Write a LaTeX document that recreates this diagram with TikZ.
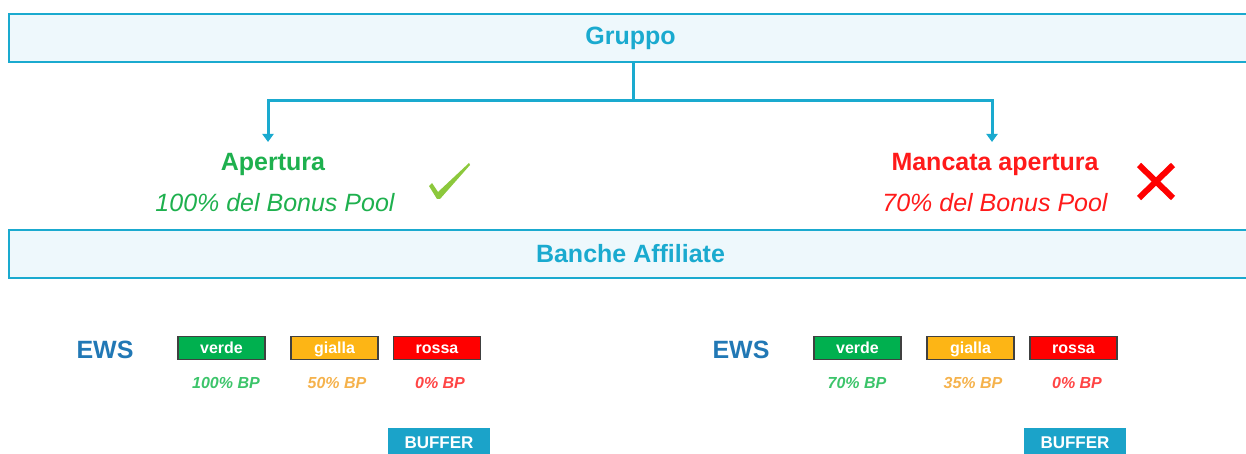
\documentclass[tikz,border=0pt]{standalone}
\usepackage{fontspec}
\setmainfont{Liberation Sans}
\usetikzlibrary{arrows.meta}
\definecolor{ciano}{HTML}{1AAACF}
\definecolor{azzurrino}{HTML}{EEF8FC}
\definecolor{verdetesto}{HTML}{1EB04E}
\definecolor{verdespunta}{HTML}{8CC83C}
\definecolor{rossotesto}{HTML}{FF1A1A}
\definecolor{blutesto}{HTML}{2178B5}
\definecolor{verdebox}{HTML}{00B04F}
\definecolor{giallobox}{HTML}{FDB515}
\definecolor{rossobox}{HTML}{FF0000}
\definecolor{verdebp}{HTML}{3CC46A}
\definecolor{giallobp}{HTML}{F5B24C}
\definecolor{rossobp}{HTML}{FF4545}
\definecolor{bluebuffer}{HTML}{1BA3C9}
\def\fs#1{\fontsize{#1}{#1}\selectfont}

\begin{document}
\begin{tikzpicture}[x=1pt, y=-1pt,
    fascia/.style={draw=ciano, line width=2pt, fill=azzurrino, minimum width=1243pt,
      minimum height=48pt, inner sep=0pt, text=ciano, font=\fs{25}\bfseries},
    collega/.style={draw=ciano, line width=3pt},
    freccia/.style={collega, -{Triangle[width=11pt, length=8pt]}},
    esito/.style={font=\fs{25}\bfseries},
    quota/.style={font=\fs{25}\itshape},
    ews/.style={text=blutesto, font=\fs{25}\bfseries},
    semaforo/.style={draw=black!75, line width=1.5pt, minimum width=87pt, minimum height=23pt,
      inner sep=0pt, text height=10pt, text depth=0pt, text=white, font=\fs{16}\bfseries},
    bp/.style={font=\fs{16}\bfseries\itshape},
    buffer/.style={fill=bluebuffer, minimum width=102pt, minimum height=30pt, inner sep=0pt,
      text=white, font=\fs{17}\bfseries}]
  \useasboundingbox (0,0) rectangle (1246,454);

  % fasce
  \node[fascia] (gruppo) at (630.5,38) {Gruppo};
  \node[fascia] (banche) at (630.5,254) {Banche Affiliate};

  % rami
  \coordinate (bivio) at (633,101);
  \coordinate (fineA) at (268,142);
  \coordinate (fineM) at (992,142);
  \draw[collega] (gruppo.south -| bivio) -- (bivio);
  \draw[freccia] (bivio) -| (fineA);
  \draw[freccia] (bivio) -| (fineM);

  % esiti
  \node[esito, text=verdetesto] (apertura) at (273,164) {Apertura};
  \node[quota, text=verdetesto] (quotaA) at (275,203) {100\% del Bonus Pool};
  \node[esito, text=rossotesto] (mancata) at (995,164) {Mancata apertura};
  \node[quota, text=rossotesto] (quotaM) at (995,203) {70\% del Bonus Pool};
  \fill[verdespunta] (429,186) -- (432,183) -- (438,192) -- (469,163) -- (470,165)
    -- (440,199) -- (437,199) -- cycle;
  \draw[rossobox, line width=6pt] (1139,165) -- (1173,198);
  \draw[rossobox, line width=6pt] (1173,165) -- (1139,198);

  % EWS sinistra
  \node[ews] (ewsA) at (105,350) {EWS};
  \node[semaforo, fill=verdebox] (verdeA) at (221.5,348) {verde};
  \node[semaforo, fill=giallobox] (giallaA) at (334.5,348) {gialla};
  \node[semaforo, fill=rossobox] (rossaA) at (437,348) {rossa};
  \node[bp, text=verdebp] (bpverdeA) at (226,383) {100\% BP};
  \node[bp, text=giallobp] (bpgiallaA) at (337,383) {50\% BP};
  \node[bp, text=rossobp] (bprossaA) at (440,383) {0\% BP};
  \node[buffer] (bufferA) at (439,443) {BUFFER};

  % EWS destra
  \node[ews] (ewsM) at (741,350) {EWS};
  \node[semaforo, fill=verdebox] (verdeM) at (857.5,348) {verde};
  \node[semaforo, fill=giallobox] (giallaM) at (970.5,348) {gialla};
  \node[semaforo, fill=rossobox] (rossaM) at (1073.5,348) {rossa};
  \node[bp, text=verdebp] (bpverdeM) at (857,383) {70\% BP};
  \node[bp, text=giallobp] (bpgiallaM) at (973,383) {35\% BP};
  \node[bp, text=rossobp] (bprossaM) at (1077,383) {0\% BP};
  \node[buffer] (bufferM) at (1075,443) {BUFFER};
\end{tikzpicture}
\end{document}
